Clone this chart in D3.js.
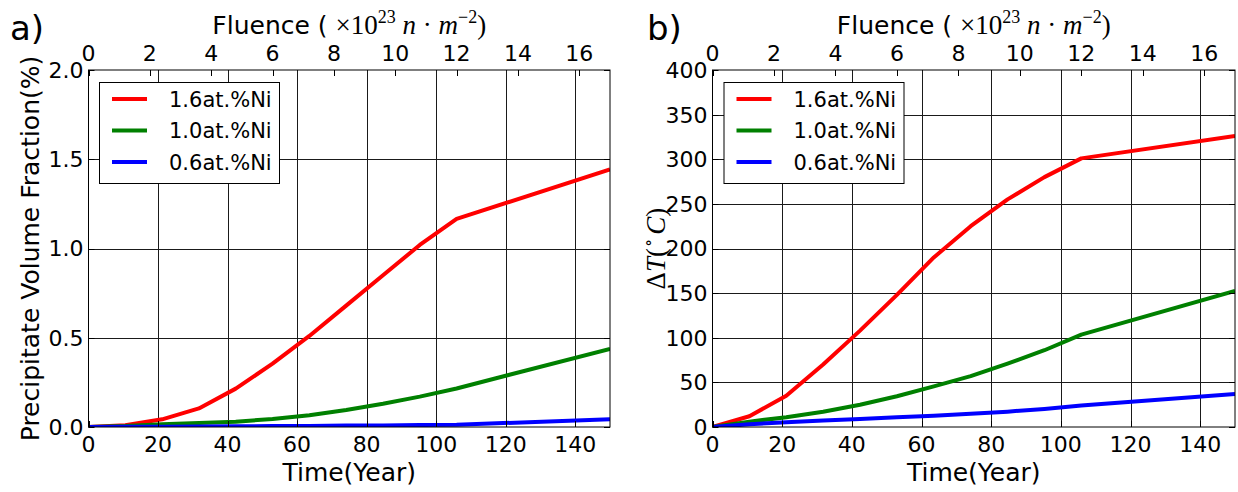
<!DOCTYPE html>
<html>
<head>
<meta charset="utf-8">
<script src="https://cdn.jsdelivr.net/npm/d3@7"></script>
<style>
  html, body { margin: 0; padding: 0; background: #fff; }
  svg { display: block; }
  text { font-family: "DejaVu Sans", sans-serif; fill: #000; }
</style>
</head>
<body>
<svg id="chart" width="1238" height="492"></svg>
<script>
// ---- data ----
const times = [0, 10.59, 21.18, 31.76, 42.35, 52.94, 63.53, 74.12, 84.71, 95.29, 105.88, 150];
const seriesNames = ["1.6at.%Ni", "1.0at.%Ni", "0.6at.%Ni"];
const seriesColors = ["#ff0000", "#008000", "#0000ff"];

const fractionNi16 = [0, 0.01, 0.043, 0.104, 0.215, 0.355, 0.51, 0.68, 0.85, 1.02, 1.166, 1.443];
const fractionNi10 = [0, 0.005, 0.015, 0.022, 0.03, 0.045, 0.066, 0.095, 0.13, 0.17, 0.216, 0.438];
const fractionNi06 = [0, 0.001, 0.002, 0.003, 0.004, 0.005, 0.006, 0.008, 0.009, 0.011, 0.013, 0.043];

const deltaTNi16 = [0, 12, 35, 70, 108, 148, 190, 225, 255, 280, 301, 326];
const deltaTNi10 = [0, 6, 11, 17, 25, 34.5, 45.5, 57, 71, 86, 103.5, 152.5];
const deltaTNi06 = [0, 3, 5.3, 7.2, 9, 10.8, 12.7, 14.8, 17.2, 20.3, 24, 37];

const timeTicks = [0, 20, 40, 60, 80, 100, 120, 140];
const fluenceTicks = [0, 2, 4, 6, 8, 10, 12, 14, 16];
const fractionTicks = [0, 0.5, 1.0, 1.5, 2.0];
const deltaTTicks = [0, 50, 100, 150, 200, 250, 300, 350, 400];

// ---- layout ----
const svg = d3.select("#chart");
const plotTop = 70, plotBottom = 427;
const mathFont = "'Liberation Serif', 'DejaVu Serif', serif";

const panels = [
  { id: "a", left: 88.5, right: 610, label: "a)", labelX: 10,
    yDomain: [0, 2], yTicks: fractionTicks, yFmt: d3.format(".1f"),
    series: [fractionNi16, fractionNi10, fractionNi06],
    yLabel: "frac", legendX: 99 },
  { id: "b", left: 712.5, right: 1235, label: "b)", labelX: 647,
    yDomain: [0, 400], yTicks: deltaTTicks, yFmt: d3.format("d"),
    series: [deltaTNi16, deltaTNi10, deltaTNi06],
    yLabel: "dT", legendX: 723.5 }
];

const tickFont = 22, labelFont = 25, legendFont = 21;

panels.forEach(p => {
  const x = d3.scaleLinear().domain([0, 150]).range([p.left, p.right]);
  const xTop = d3.scaleLinear().domain([0, 17]).range([p.left, p.right]);
  const y = d3.scaleLinear().domain(p.yDomain).range([plotBottom, plotTop]);
  const g = svg.append("g");

  g.append("clipPath").attr("id", "clip-" + p.id)
    .append("rect").attr("x", p.left).attr("y", plotTop)
    .attr("width", p.right - p.left).attr("height", plotBottom - plotTop);

  // grid
  const grid = g.append("g").attr("stroke", "#1a1a1a").attr("stroke-width", 1);
  timeTicks.forEach(t => {
    if (t === 0) return;
    const xx = Math.round(x(t)) + 0.5;
    grid.append("line").attr("x1", xx).attr("x2", xx).attr("y1", plotTop).attr("y2", plotBottom);
  });
  p.yTicks.forEach(v => {
    if (v === p.yDomain[0] || v === p.yDomain[1]) return;
    const yy = Math.round(y(v)) + 0.5;
    grid.append("line").attr("x1", p.left).attr("x2", p.right).attr("y1", yy).attr("y2", yy);
  });

  // lines
  const line = d3.line().x((d, i) => x(times[i])).y(d => y(d));
  const lg = g.append("g").attr("clip-path", `url(#clip-${p.id})`);
  p.series.forEach((s, k) => {
    lg.append("path").datum(s).attr("d", line)
      .attr("fill", "none").attr("stroke", seriesColors[k])
      .attr("stroke-width", 4).attr("stroke-linejoin", "round");
  });

  // frame
  g.append("rect").attr("x", p.left).attr("y", plotTop)
    .attr("width", p.right - p.left).attr("height", plotBottom - plotTop)
    .attr("fill", "none").attr("stroke", "#000").attr("stroke-width", 1);

  // inward ticks
  const tk = g.append("g").attr("stroke", "#000").attr("stroke-width", 1);
  timeTicks.forEach(t => {
    const xx = Math.round(x(t)) + 0.5;
    tk.append("line").attr("x1", xx).attr("x2", xx).attr("y1", plotBottom).attr("y2", plotBottom - 6);
  });
  fluenceTicks.forEach(f => {
    const xx = Math.round(xTop(f)) + 0.5;
    tk.append("line").attr("x1", xx).attr("x2", xx).attr("y1", plotTop).attr("y2", plotTop + 6);
  });
  p.yTicks.forEach(v => {
    const yy = Math.round(y(v)) + 0.5;
    tk.append("line").attr("x1", p.left).attr("x2", p.left + 6).attr("y1", yy).attr("y2", yy);
    tk.append("line").attr("x1", p.right).attr("x2", p.right - 6).attr("y1", yy).attr("y2", yy);
  });

  // tick labels
  timeTicks.forEach(t => {
    g.append("text").attr("x", x(t)).attr("y", plotBottom + 8)
      .attr("dy", "0.76em").attr("text-anchor", "middle")
      .style("font-size", tickFont + "px").text(t);
  });
  fluenceTicks.forEach(f => {
    g.append("text").attr("x", xTop(f)).attr("y", plotTop - 9)
      .attr("text-anchor", "middle")
      .style("font-size", tickFont + "px").text(f);
  });
  p.yTicks.forEach(v => {
    g.append("text").attr("x", p.left - 5).attr("y", y(v))
      .attr("dy", "0.36em").attr("text-anchor", "end")
      .style("font-size", tickFont + "px").text(p.yFmt(v));
  });

  // axis titles
  const cx = (p.left + p.right) / 2;
  g.append("text").attr("x", cx).attr("y", 481).attr("text-anchor", "middle")
    .style("font-size", labelFont + "px").text("Time(Year)");

  const ft = g.append("text").attr("x", cx).attr("y", 34).attr("text-anchor", "middle")
    .style("font-size", labelFont + "px");
  ft.append("tspan").text("Fluence ( ");
  ft.append("tspan").style("font-family", mathFont).style("font-size", "27px").text("×10");
  ft.append("tspan").style("font-family", mathFont).style("font-size", "18px")
    .attr("dy", -11).text("23");
  ft.append("tspan").style("font-family", mathFont).style("font-size", "27px").style("font-style", "italic")
    .attr("dy", 11).text(" n");
  ft.append("tspan").style("font-family", mathFont).style("font-size", "27px").text(" · ");
  ft.append("tspan").style("font-family", mathFont).style("font-size", "27px").style("font-style", "italic").text("m");
  ft.append("tspan").style("font-family", mathFont).style("font-size", "18px")
    .attr("dy", -11).text("−2");
  ft.append("tspan").style("font-family", mathFont).style("font-size", "27px").attr("dy", 11).text(")");

  const cy = (plotTop + plotBottom) / 2;
  if (p.yLabel === "frac") {
    g.append("text").attr("transform", `translate(${p.left - 50},${cy}) rotate(-90)`)
      .attr("text-anchor", "middle").style("font-size", labelFont + "px")
      .text("Precipitate Volume Fraction(%)");
  } else {
    const yt = g.append("text").attr("transform", `translate(${p.left - 48},${cy}) rotate(-90)`)
      .attr("text-anchor", "middle").style("font-size", "27px")
      .style("font-family", mathFont);
    yt.append("tspan").text("Δ");
    yt.append("tspan").style("font-style", "italic").text("T");
    yt.append("tspan").text("(");
    yt.append("tspan").style("font-size", "17px").attr("dx", 1).attr("dy", -11).text("∘");
    yt.append("tspan").style("font-style", "italic").attr("dx", 4).attr("dy", 11).text("C");
    yt.append("tspan").text(")");
  }

  // panel label
  g.append("text").attr("x", p.labelX).attr("y", 40)
    .style("font-size", "34px").text(p.label);

  // legend
  const lgX = p.legendX, lgY = 82, lgW = 180, lgH = 101;
  const leg = g.append("g");
  leg.append("rect").attr("x", lgX + 0.5).attr("y", lgY + 0.5).attr("width", lgW).attr("height", lgH)
    .attr("fill", "#fff").attr("stroke", "#000").attr("stroke-width", 1);
  seriesNames.forEach((name, k) => {
    const ly = lgY + 17 + k * 31.5;
    leg.append("line").attr("x1", lgX + 13).attr("x2", lgX + 48).attr("y1", ly).attr("y2", ly)
      .attr("stroke", seriesColors[k]).attr("stroke-width", 4);
    leg.append("text").attr("x", lgX + 70).attr("y", ly).attr("dy", "0.36em")
      .style("font-size", legendFont + "px").text(name);
  });
});
</script>
</body>
</html>
